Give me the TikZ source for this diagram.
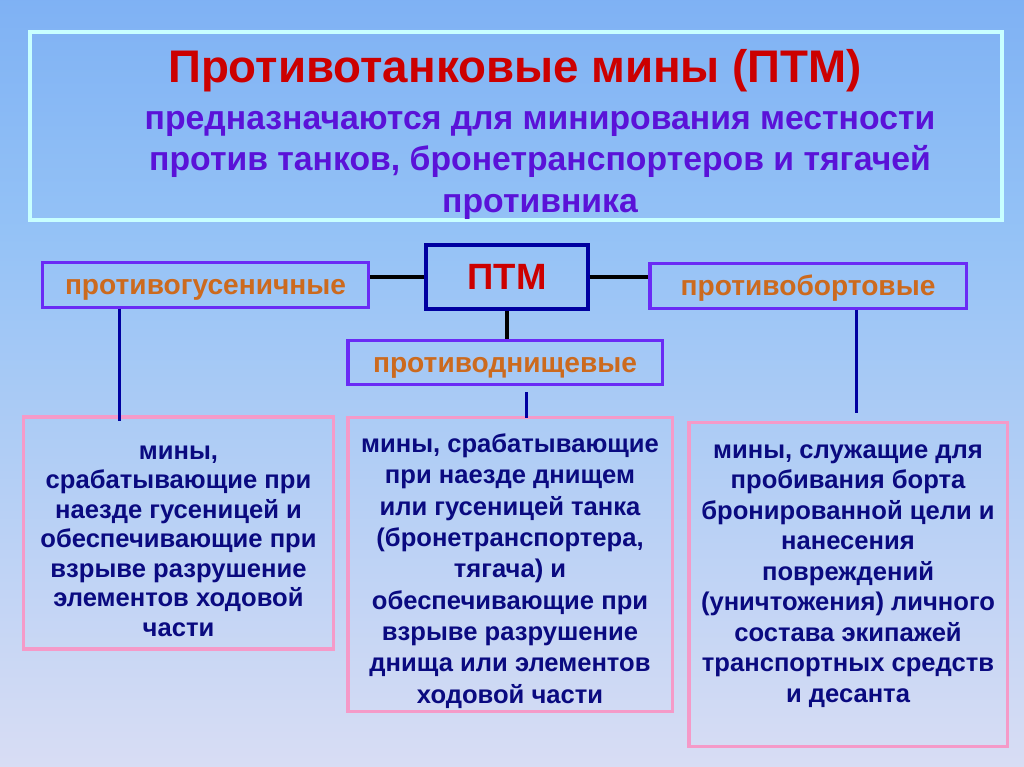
\documentclass[tikz,border=0pt]{standalone}
\usepackage{fontspec}
\setmainfont{Liberation Sans}
\usepackage{xcolor}
\usepackage{tikz}
\usetikzlibrary{positioning,calc}
\definecolor{skytop}{HTML}{5C96F0}
\definecolor{skymid}{HTML}{94C2F6}
\definecolor{skylow}{HTML}{D8DDF4}
\definecolor{skybot}{HTML}{F8E6F5}
\definecolor{frame}{HTML}{C8FFFF}
\definecolor{titlered}{HTML}{CC0000}
\definecolor{violet}{HTML}{5A12D8}
\definecolor{amber}{HTML}{CC6A1E}
\definecolor{navy}{HTML}{0A0A80}
\definecolor{catline}{HTML}{6A2BF5}
\definecolor{ptmline}{HTML}{0000A0}
\definecolor{pinkline}{HTML}{F59AC8}
\pgfdeclareverticalshading{sky}{100bp}{color(0bp)=(skybot); color(25bp)=(skylow);
  color(60bp)=(skymid); color(100bp)=(skytop)}
\tikzset{
  catbox/.style={
    rectangle, draw=catline, line width=2.2pt,
    font=\fontsize{20}{23}\selectfont\bfseries, text=amber,
    text height=1.6em, text depth=0.2em,
    minimum height=1.12cm, inner sep=2pt
  },
  ptmbox/.style={
    rectangle, draw=ptmline, line width=2.8pt,
    font=\fontsize{26}{30}\selectfont\bfseries, text=titlered,
    minimum width=4.03cm, minimum height=1.58cm
  },
  descbox/.style={
    rectangle, draw=pinkline, line width=2.2pt
  },
  desctext/.style={
    font=\fontsize{18.2}{#1}\selectfont\bfseries, text=navy,
    align=center, inner sep=0pt
  },
  desctext/.default=21.7,
  blacklink/.style={draw=black, line width=2.2pt},
  bluelink/.style={draw=ptmline, line width=2.2pt},
}

\begin{document}
\begin{tikzpicture}[x=0.025cm, y=-0.025cm]
  \shade[shading=sky] (0,0) rectangle (1024,767);
  \useasboundingbox (0,0) rectangle (1024,767);
  % header
  \draw[frame, line width=2.2pt] (30,32) rectangle (1002,220);
  \node[font=\fontsize{32.5}{36}\selectfont\bfseries, text=titlered] (title) at (515,71)
    {Противотанковые мины (ПТМ)};
  \node[font=\fontsize{24}{29.5}\selectfont\bfseries, text=violet, align=center] (purpose) at (540,165)
    {предназначаются для минирования местности\\
     против танков, бронетранспортеров и тягачей\\
     противника};
  % classes
  \node[ptmbox] (ptm) at (507,277) {ПТМ};
  \node[catbox, minimum width=8.13cm] (gus) at (205.5,285) {противогусеничные};
  \node[catbox, minimum width=7.9cm] (bort) at (808,286) {противобортовые};
  \node[catbox, minimum width=7.85cm] (dnish) at (505,362.5) {противоднищевые};
  \draw[blacklink] (ptm.west) -- (ptm.west -| gus.east);
  \draw[blacklink] (ptm.east) -- (ptm.east -| bort.west);
  \draw[blacklink] (ptm.south) -- (dnish.north -| ptm.south);
  % descriptions
  \node[descbox, minimum width=7.73cm, minimum height=5.8cm] (lbox) at (178.5,533) {};
  \node[descbox, minimum width=8.1cm, minimum height=7.33cm] (mbox) at (510,564.5) {};
  \node[descbox, minimum width=7.95cm, minimum height=8.08cm] (rbox) at (848,584.5) {};
  \node[desctext=21] (ltext) at (178.5,541)
    {мины,\\ срабатывающие при\\ наезде гусеницей и\\ обеспечивающие при\\
     взрыве разрушение\\ элементов ходовой\\ части};
  \node[desctext=22.3] (mtext) at (510,571)
    {мины, срабатывающие\\ при наезде днищем\\ или гусеницей танка\\
     (бронетранспортера,\\ тягача) и\\ обеспечивающие при\\ взрыве разрушение\\
     днища или элементов\\ ходовой части};
  \node[desctext] (rtext) at (848,576)
    {мины, служащие для\\ пробивания борта\\ бронированной цели и\\ нанесения\\
     повреждений\\ (уничтожения) личного\\ состава экипажей\\
     транспортных средств\\ и десанта};
  \draw[bluelink] ([xshift=-2.16cm]gus.south) coordinate (g1) -- ([yshift=-0.15cm]g1 |- lbox.north);
  \draw[bluelink] ([xshift=0.53cm,yshift=-0.15cm]dnish.south) coordinate (d1) -- ([yshift=-0.05cm]d1 |- mbox.north);
  \draw[bluelink] ([xshift=1.22cm]bort.south) coordinate (b1) -- ([yshift=0.2cm]b1 |- rbox.north);
\end{tikzpicture}
\end{document}
